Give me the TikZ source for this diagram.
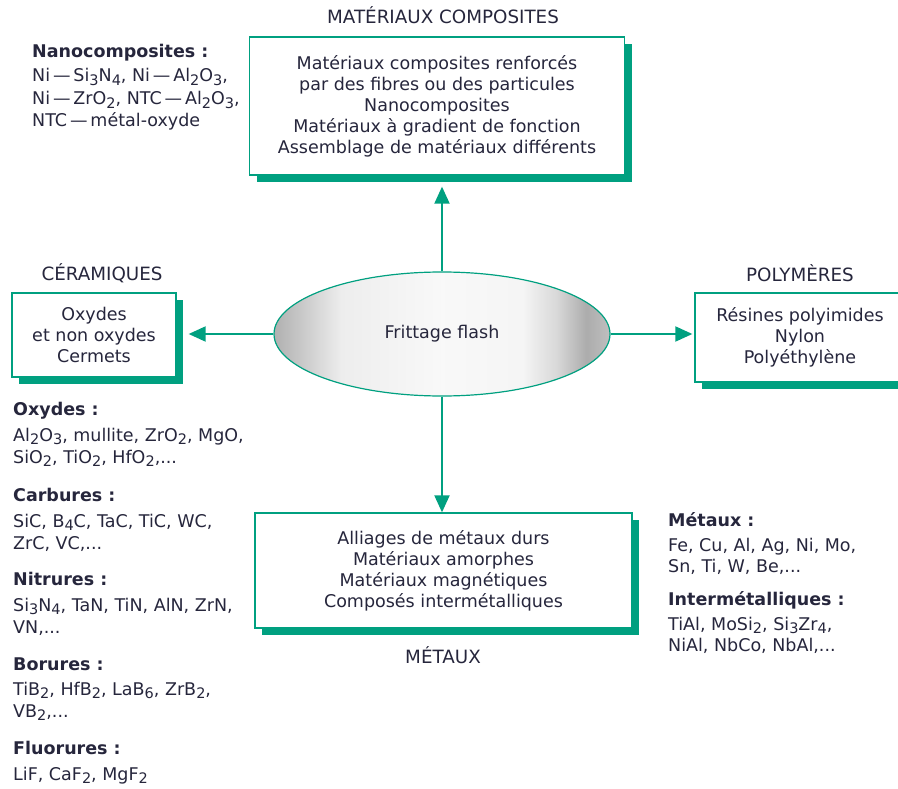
\documentclass[tikz,border=0pt]{standalone}
\usepackage{fontspec}
\setmainfont{DejaVu Sans}
\usetikzlibrary{arrows.meta,shapes.geometric,shadows}
\definecolor{tealc}{RGB}{0,160,128}
\definecolor{txt}{RGB}{38,38,60}
\newcommand\dn[1]{\raisebox{-0.4ex}{\fontsize{14.5}{14}\selectfont #1}}
\newcommand\dsh{\,—\,}
\pgfdeclarehorizontalshading{ellsh}{100bp}{color(0bp)=(gray!62); color(25bp)=(gray!62); color(28bp)=(gray!48); color(35bp)=(gray!14); color(50bp)=(gray!5); color(62bp)=(gray!8); color(67bp)=(gray!30); color(71.5bp)=(gray!65); color(75bp)=(gray!50); color(100bp)=(gray!50)}
\tikzset{
  box/.style={draw=tealc, line width=1.3pt, fill=white, align=center, inner sep=0pt,
    font=\fontsize{17.5}{21}\selectfont, text=txt,
    general shadow={fill=tealc, shadow xshift=7pt, shadow yshift=-7pt}},
  ttl/.style={font=\fontsize{18.3}{18}\selectfont, text=txt, inner sep=0pt},
  lst/.style={anchor=west, font=\fontsize{17.5}{18}\selectfont, text=txt, inner sep=0pt, text height=13pt, text depth=3pt},
  hd/.style={lst, font=\fontsize{17.5}{18}\selectfont\bfseries},
  arr/.style={draw=tealc, line width=2pt, -{Triangle[length=17pt,width=15pt]}},
}
\begin{document}
\begin{tikzpicture}[x=1pt,y=-1pt]
\useasboundingbox (0,0) rectangle (898,789);
% boxes
\node[box, minimum width=375pt, minimum height=138pt] (comp) at (437,106)
 {Matériaux composites renforcés\\par des fibres ou des particules\\Nanocomposites\\Matériaux à gradient de fonction\\Assemblage de matériaux différents};
\node[box, minimum width=164pt, minimum height=84pt] (cer) at (94,335)
 {Oxydes\\et non oxydes\\Cermets};
\node[box, minimum width=210pt, minimum height=89pt] (pol) at (800,337.5)
 {Résines polyimides\\Nylon\\Polyéthylène};
\node[box, minimum width=377pt, minimum height=115pt] (met) at (443.5,570.5)
 {Alliages de métaux durs\\Matériaux amorphes\\Matériaux magnétiques\\Composés intermétalliques};
% ellipse
\node[ellipse, draw=tealc, line width=1.2pt, minimum width=336pt, minimum height=124pt, inner sep=0pt,
  shading=ellsh, font=\fontsize{17.5}{18}\selectfont, text=txt] (ell) at (442,334) {Frittage flash};
% titles
\node[ttl] (tcomp) at (443,15) {MATÉRIAUX COMPOSITES};
\node[ttl] (tcer) at (102,273) {CÉRAMIQUES};
\node[ttl] (tpol) at (800,273) {POLYMÈRES};
\node[ttl] (tmet) at (443,655) {MÉTAUX};
% arrows
\draw[arr, shorten >=11pt] (ell.north) -- (ell.north |- comp.south);
\draw[arr, shorten >=12pt] (ell.west) -- (ell.west -| cer.east);
\draw[arr, shorten >=2pt] (ell.east) -- (ell.east -| pol.west);
\draw[arr, shorten >=0pt] (ell.south) -- (ell.south |- met.north);
% nanocomposites
\node[hd] (n0) at (32,53) {Nanocomposites :};
\node[lst] (n1) at (32,77) {Ni\dsh Si\dn{3}N\dn{4}, Ni\dsh Al\dn{2}O\dn{3},};
\node[lst] (n2) at (32,100) {Ni\dsh ZrO\dn{2}, NTC\dsh Al\dn{2}O\dn{3},};
\node[lst] (n3) at (32,122) {NTC\dsh métal-oxyde};
% left lists
\node[hd] (o0) at (13,410) {Oxydes :};
\node[lst] (o1) at (13,436) {Al\dn{2}O\dn{3}, mullite, ZrO\dn{2}, MgO,};
\node[lst] (o2) at (13,458) {SiO\dn{2}, TiO\dn{2}, HfO\dn{2},...};
\node[hd] (c0) at (13,496) {Carbures :};
\node[lst] (c1) at (13,522) {SiC, B\dn{4}C, TaC, TiC, WC,};
\node[lst] (c2) at (13,544) {ZrC, VC,...};
\node[hd] (i0) at (13,580) {Nitrures :};
\node[lst] (i1) at (13,606) {Si\dn{3}N\dn{4}, TaN, TiN, AlN, ZrN,};
\node[lst] (i2) at (13,628) {VN,...};
\node[hd] (b0) at (13,665) {Borures :};
\node[lst] (b1) at (13,690) {TiB\dn{2}, HfB\dn{2}, LaB\dn{6}, ZrB\dn{2},};
\node[lst] (b2) at (13,712) {VB\dn{2},...};
\node[hd] (f0) at (13,749) {Fluorures :};
\node[lst] (f1) at (13,775) {LiF, CaF\dn{2}, MgF\dn{2}};
% right lists
\node[hd] (m0) at (668,521) {Métaux :};
\node[lst] (m1) at (668,546) {Fe, Cu, Al, Ag, Ni, Mo,};
\node[lst] (m2) at (668,567) {Sn, Ti, W, Be,...};
\node[hd] (t0) at (668,600) {Intermétalliques :};
\node[lst] (t1) at (668,625) {TiAl, MoSi\dn{2}, Si\dn{3}Zr\dn{4},};
\node[lst] (t2) at (668,646) {NiAl, NbCo, NbAl,...};
\end{tikzpicture}
\end{document}
